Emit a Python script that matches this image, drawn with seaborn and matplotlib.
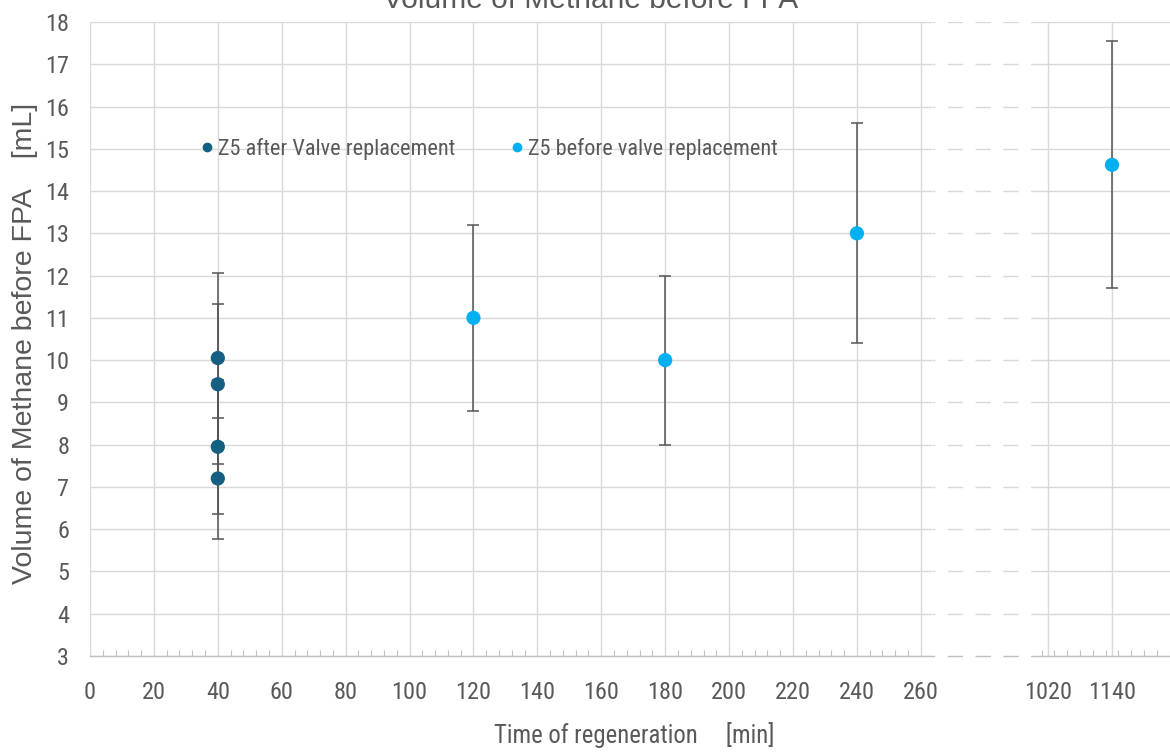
import matplotlib
matplotlib.use("Agg")
import matplotlib.pyplot as plt
from matplotlib import font_manager
from matplotlib.lines import Line2D
from matplotlib.ticker import MultipleLocator
import numpy as np
import pandas as pd
import seaborn as sns

# ---- data -------------------------------------------------------------
series_after = "Z5 after Valve replacement"
series_before = "Z5 before valve replacement"

after_time = [40, 40, 40, 40]
after_volume = [10.05, 9.43, 7.95, 7.20]
after_err = [2.01, 1.89, 1.59, 1.44]

before_time = [120, 180, 240, 1140]
before_volume = [11.0, 10.0, 13.0, 14.62]
before_err = [2.20, 2.00, 2.60, 2.92]

left_ticks = list(range(0, 261, 20))
right_ticks = [1020, 1140]
y_ticks = list(range(3, 19))

title = "Volume of Methane before FPA"
x_label = "Time of regeneration     [min]"
y_label = "Volume of Methane before FPA    [mL]"

# ---- styling ------------------------------------------------------------
sns.set_theme(style="white")
installed = {f.name for f in font_manager.fontManager.ttflist}
condensed_candidates = ["Liberation Sans Narrow", "DejaVu Sans Condensed",
                        "Roboto Condensed", "Open Sans Condensed",
                        "Noto Sans Condensed", "Arial Narrow"]
narrow = next((f for f in condensed_candidates if f in installed), None)
if narrow is None:
    # no condensed face: use the regular face a little smaller
    narrow, shrink = "Liberation Sans", 0.86
else:
    shrink = 1.0
plt.rcParams["font.family"] = [narrow, "DejaVu Sans"]

TEXT = "#595959"
GRID = "#d9d9d9"
AXIS = "#bfbfbf"
DARK = "#156082"
LIGHT = "#00b0f0"
palette = {series_after: DARK, series_before: LIGHT}

df = pd.concat([
    pd.DataFrame({"time": after_time, "volume": after_volume,
                  "err": after_err, "series": series_after}),
    pd.DataFrame({"time": before_time, "volume": before_volume,
                  "err": before_err, "series": series_before}),
], ignore_index=True)

W, H = 1170, 752
fig = plt.figure(figsize=(W / 100, H / 100), dpi=100)


def box(x0, x1, y0=22, y1=656):
    return [x0 / W, 1 - y1 / H, (x1 - x0) / W, (y1 - y0) / H]


ax_l = fig.add_axes(box(90, 932))
ax_m = fig.add_axes(box(932, 1038))
ax_r = fig.add_axes(box(1038, 1170))

ymin, ymax = 3, 18
tick_size = 17.5 * shrink


def draw_points(ax, sub):
    ax.errorbar(sub["time"], sub["volume"], yerr=sub["err"], fmt="none",
                ecolor="#555555", elinewidth=1.1, capsize=4, capthick=1.1,
                zorder=2)
    sns.scatterplot(data=sub, x="time", y="volume", hue="series",
                    palette=palette, s=105, edgecolor="none", linewidth=0,
                    legend=False, ax=ax, zorder=3)


def style_axis(ax):
    ax.set_ylim(ymin, ymax)
    ax.set_yticks(y_ticks)
    ax.grid(True, which="major", color=GRID, linewidth=1.0)
    ax.set_axisbelow(True)
    for s in ("top", "right", "left"):
        ax.spines[s].set_visible(False)
    ax.spines["bottom"].set_color(AXIS)
    ax.spines["bottom"].set_linewidth(1.0)
    ax.tick_params(axis="both", which="major", length=0, colors=TEXT,
                   labelsize=tick_size)
    ax.tick_params(axis="x", which="minor", direction="in", length=4,
                   width=0.8, color=AXIS, bottom=True)
    ax.tick_params(axis="x", which="major", pad=18)
    ax.set_xlabel("")
    ax.set_ylabel("")


# left panel: 0 - 260 min
left = df[df["time"] <= 260]
draw_points(ax_l, left)
style_axis(ax_l)
ax_l.set_xlim(0, 263.5)
ax_l.set_xticks(left_ticks)
ax_l.xaxis.set_minor_locator(MultipleLocator(4))
ax_l.tick_params(axis="y", pad=15)

# right panel: long regeneration times
right = df[df["time"] > 260]
draw_points(ax_r, right)
style_axis(ax_r)
ax_r.set_xlim(1001.25, 1248.75)
ax_r.set_xticks(right_ticks)
ax_r.xaxis.set_minor_locator(MultipleLocator(24))
ax_r.tick_params(axis="y", labelleft=False)
ax_r.grid(True, axis="x", color=GRID, linewidth=1.0)

# axis break: dashed continuation of the grid
ax_m.set_xlim(0, 1)
ax_m.set_ylim(ymin, ymax)
ax_m.axis("off")
for yv in y_ticks[1:]:
    ax_m.axhline(yv, color=GRID, linewidth=1.0, linestyle=(9, (11, 9)))
ax_m.axhline(ymin, color=AXIS, linewidth=1.0, linestyle=(9, (11, 9)),
             clip_on=False)

# legend
handles = [Line2D([], [], linestyle="none", marker="o", markersize=7,
                  markerfacecolor=palette[s], markeredgecolor="none")
           for s in (series_after, series_before)]
leg = ax_l.legend(handles, [series_after, series_before], ncol=2,
                  loc="center left", bbox_to_anchor=(201 / W, 1 - 149 / H),
                  bbox_transform=fig.transFigure, frameon=False,
                  fontsize=16.0 * shrink, handlelength=0.5,
                  handletextpad=0.25, columnspacing=2.55, borderpad=0,
                  borderaxespad=0)
for t in leg.get_texts():
    t.set_color(TEXT)

# titles and axis labels
fig.text(591 / W, 1 - 8 / H, title, ha="center", va="baseline",
         fontsize=21.5, color=TEXT, family=["Liberation Sans", "DejaVu Sans"])
fig.text(634 / W, 1 - 735 / H, x_label, ha="center", va="center",
         fontsize=17.8 * shrink, color=TEXT)
fig.text(25 / W, 1 - 343 / H, y_label, ha="center", va="center",
         rotation=90, fontsize=20.5, color=TEXT,
         family=["Liberation Sans", "DejaVu Sans"])

fig.savefig("out.png", dpi=100, facecolor="white")
